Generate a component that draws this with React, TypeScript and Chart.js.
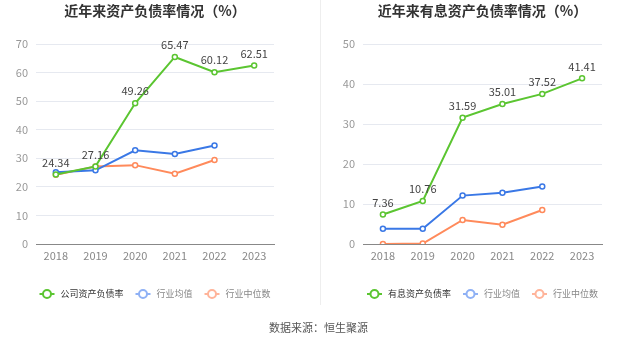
import React, { useEffect, useRef } from "react";
import { Chart, registerables } from "chart.js";

Chart.register(...registerables);

const years = ["2018", "2019", "2020", "2021", "2022", "2023"];

const leftTitle = "近年来资产负债率情况（%）";
const leftCompany = [24.34, 27.16, 49.26, 65.47, 60.12, 62.51];
const leftAvg = [25.1, 25.8, 32.8, 31.5, 34.5, null];
const leftMedian = [24.2, 27.1, 27.6, 24.6, 29.4, null];
const leftLabels = ["公司资产负债率", "行业均值", "行业中位数"];

const rightTitle = "近年来有息资产负债率情况（%）";
const rightCompany = [7.36, 10.76, 31.59, 35.01, 37.52, 41.41];
const rightAvg = [3.8, 3.8, 12.1, 12.8, 14.4, null];
const rightMedian = [0.0, 0.1, 6.0, 4.8, 8.5, null];
const rightLabels = ["有息资产负债率", "行业均值", "行业中位数"];

const GREEN = "#5bc531";
const BLUE = "#3a78e6";
const ORANGE = "#ff8a5b";
const LEGEND_COLORS = ["#5bc531", "#8fb1f5", "#ffb49a"];
const FONT = '"Noto Sans CJK SC", "Noto Sans", sans-serif';

type Props = {
  title: string;
  company: (number | null)[];
  avg: (number | null)[];
  median: (number | null)[];
  labels: string[];
  yMax: number;
  step: number;
  yAxisWidth: number;
  padRight: number;
  width: number;
};

function LineChart(p: Props) {
  const ref = useRef<HTMLCanvasElement | null>(null);
  useEffect(() => {
    if (!ref.current) return;
    const ds = (label: string, data: (number | null)[], color: string) => ({
      label,
      data,
      borderColor: color,
      backgroundColor: "#ffffff",
      borderWidth: 2,
      pointRadius: 2.5,
      pointBorderWidth: 1.5,
      pointBackgroundColor: "#ffffff",
      pointBorderColor: color,
      tension: 0,
      spanGaps: false,
    });
    const overlay = {
      id: "overlay",
      afterDatasetsDraw(chart: any) {
        const ctx = chart.ctx;
        const area = chart.chartArea;
        const cx = (area.left + area.right) / 2;
        ctx.save();
        const meta = chart.getDatasetMeta(0);
        ctx.font = `11px ${FONT}`;
        ctx.fillStyle = "#444";
        ctx.textAlign = "center";
        ctx.textBaseline = "middle";
        meta.data.forEach((pt: any, i: number) => {
          const v = chart.data.datasets[0].data[i];
          if (v == null) return;
          ctx.fillText(Number(v).toFixed(2), pt.x, pt.y - 12);
        });
        ctx.font = `bold 14px ${FONT}`;
        ctx.fillStyle = "#333";
        ctx.fillText(p.title, cx, 11);
        ctx.font = `9px ${FONT}`;
        const items = chart.data.datasets.map((d: any, i: number) => ({
          text: d.label,
          color: LEGEND_COLORS[i],
          w: 15 + 6 + ctx.measureText(d.label).width,
        }));
        const gap = 12;
        const total = items.reduce((s: number, it: any) => s + it.w, 0) + gap * (items.length - 1);
        let x = cx - total / 2;
        const y = 294;
        items.forEach((it: any, i: number) => {
          ctx.strokeStyle = it.color;
          ctx.lineWidth = 2;
          ctx.beginPath();
          ctx.moveTo(x, y);
          ctx.lineTo(x + 15, y);
          ctx.stroke();
          ctx.beginPath();
          ctx.fillStyle = "#fff";
          ctx.arc(x + 7.5, y, 4, 0, Math.PI * 2);
          ctx.fill();
          ctx.stroke();
          ctx.fillStyle = i === 0 ? "#333" : "#888";
          ctx.textAlign = "left";
          ctx.fillText(it.text, x + 21, y);
          x += it.w + gap;
        });
        ctx.restore();
      },
    };
    const chart = new Chart(ref.current, {
      type: "line",
      data: {
        labels: years,
        datasets: [
          ds(p.labels[0], p.company, GREEN),
          ds(p.labels[1], p.avg, BLUE),
          ds(p.labels[2], p.median, ORANGE),
        ],
      },
      options: {
        animation: false,
        responsive: false,
        maintainAspectRatio: false,
        layout: { padding: { top: 44, bottom: 80, left: 0, right: p.padRight } },
        plugins: {
          legend: { display: false },
          title: { display: false },
          tooltip: { enabled: false },
        },
        scales: {
          x: {
            offset: true,
            grid: { display: false, drawTicks: false },
            border: { color: "#888", width: 1 },
            ticks: { color: "#888", font: { size: 11, family: FONT }, padding: 5 },
            afterFit: (s: any) => {
              s.height = 20;
            },
          },
          y: {
            min: 0,
            max: p.yMax,
            ticks: { stepSize: p.step, color: "#999", font: { size: 11, family: FONT }, padding: 8 },
            grid: { color: "#e6e9f0", drawTicks: false },
            border: { display: false },
            afterFit: (s: any) => {
              s.width = p.yAxisWidth;
            },
          },
        },
      },
      plugins: [overlay],
    } as any);
    return () => chart.destroy();
  }, []);
  return <canvas ref={ref} width={p.width} height={344} style={{ display: "block", width: p.width, height: 344 }} />;
}

export default function App() {
  return (
    <div style={{ position: "fixed", left: 0, top: 0, width: 637, height: 344, background: "#fff", overflow: "hidden" }}>
      <div style={{ position: "absolute", left: 0, top: 0 }}>
        <LineChart
          title={leftTitle}
          company={leftCompany}
          avg={leftAvg}
          median={leftMedian}
          labels={leftLabels}
          yMax={70}
          step={10}
          yAxisWidth={36}
          padRight={36}
          width={310}
        />
      </div>
      <div style={{ position: "absolute", left: 320, top: 0, width: 1, height: 305, background: "#eeeeee" }} />
      <div style={{ position: "absolute", left: 320, top: 0 }}>
        <LineChart
          title={rightTitle}
          company={rightCompany}
          avg={rightAvg}
          median={rightMedian}
          labels={rightLabels}
          yMax={50}
          step={10}
          yAxisWidth={43}
          padRight={35}
          width={317}
        />
      </div>
      <div
        style={{
          position: "absolute",
          left: 0,
          top: 319,
          width: 637,
          textAlign: "center",
          fontFamily: FONT,
          fontSize: 11,
          color: "#555",
        }}
      >
        数据来源：恒生聚源
      </div>
    </div>
  );
}
